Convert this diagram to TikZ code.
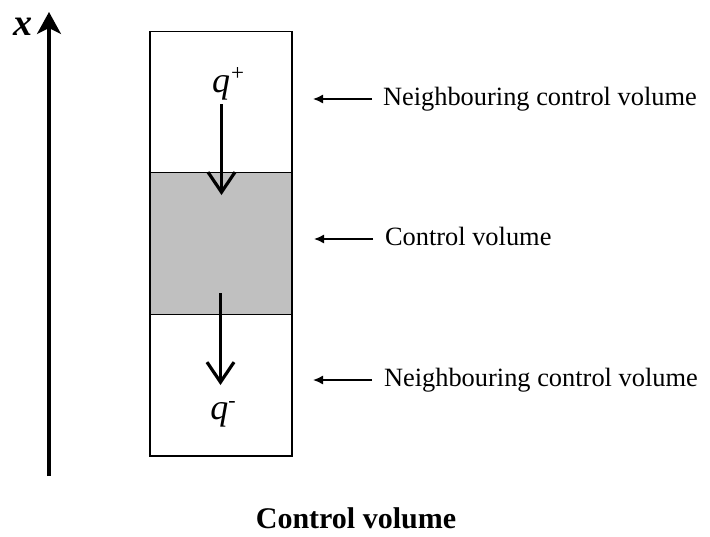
\documentclass[tikz,border=0pt]{standalone}
\usepackage{fontspec}
\setmainfont{Liberation Serif}
\usetikzlibrary{arrows.meta}
\begin{document}
\begin{tikzpicture}[x=1pt,y=-1pt,
  cell/.style={draw=black,line width=1.3pt,rectangle,inner sep=0pt,minimum width=142pt,minimum height=141.7pt},
  flux/.style={line width=3.2pt,-{Straight Barb[length=20pt,width=27pt,line width=3.2pt]}},
  axisarrow/.style={line width=3.2pt,-{Stealth[length=22pt,width=24pt,inset=6pt]}},
  pointer/.style={line width=1.5pt,-{Latex[length=10pt,width=9pt]}},
  lbl/.style={inner sep=0pt,outer sep=0pt,text height=18pt,text depth=6pt,anchor=base west,font=\fontsize{26.4}{30}\selectfont},
  qlbl/.style={inner sep=0pt,anchor=base,font=\fontsize{36}{40}\selectfont}
]
\useasboundingbox (0,0) rectangle (710,536);
\fill[white] (0,0) rectangle (710,536);
% axis
\coordinate (axb) at (49,476);
\coordinate (axt) at (49,12);
\draw[axisarrow] (axb) -- (axt);
\node[anchor=base,inner sep=0pt,font=\fontsize{38}{40}\selectfont\bfseries\itshape] (xl) at (23,35) {x};
% cells
\node[cell] (topc) at (221,102) {};
\node[cell,fill={rgb,255:red,192;green,192;blue,192}] (midc) at (221,243.5) {};
\node[cell] (botc) at (221,385) {};
% fluxes
\node[qlbl] (qp) at (228,92) {\textit{q}\kern1pt\raisebox{12pt}{\fontsize{23}{23}\selectfont +}};
\node[qlbl] (qm) at (223,419) {\textit{q}\raisebox{12pt}{\fontsize{22}{22}\selectfont -}};
\coordinate (f1s) at (221.5,104);
\coordinate (f1e) at (221.5,195);
\coordinate (f2s) at (220.5,293);
\coordinate (f2e) at (220.5,385);
\draw[flux] (f1s) -- (f1e);
\draw[flux] (f2s) -- (f2e);
% labels
\node[lbl] (l1) at (383,105) {Neighbouring control volume};
\node[lbl] (l2) at (385,245) {Control volume};
\node[lbl] (l3) at (384,386) {Neighbouring control volume};
\draw[pointer] ([xshift=-11pt]l1.west) -- ++(-59,0);
\draw[pointer] ([xshift=-12pt]l2.west) -- ++(-59,0);
\draw[pointer] ([xshift=-12pt]l3.west) -- ++(-59,0);
% title
\node[anchor=base,inner sep=0pt,font=\fontsize{30}{34}\selectfont\bfseries] (title) at (356,528) {Control volume};
\end{tikzpicture}
\end{document}
